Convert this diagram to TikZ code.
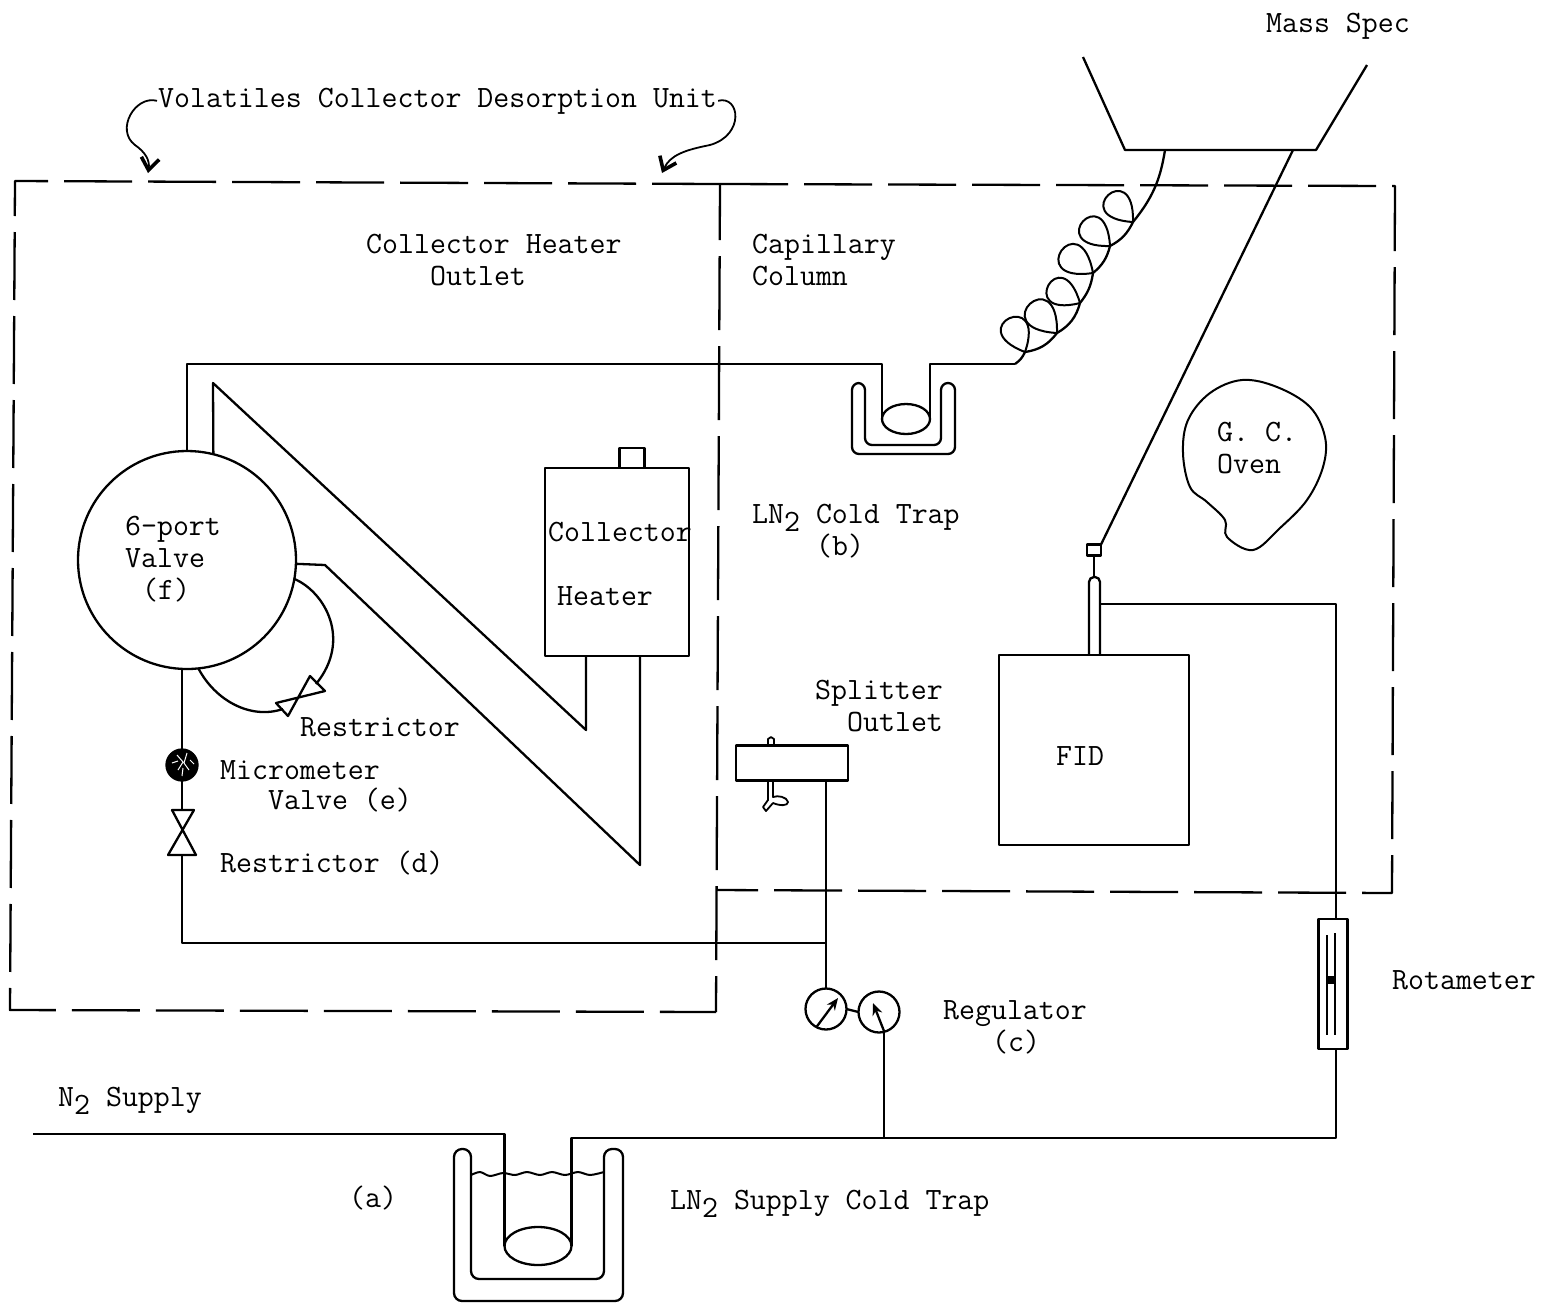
\documentclass[tikz,border=0pt]{standalone}
\usetikzlibrary{arrows.meta,shapes.geometric}
\newcommand{\subtwo}{\raisebox{-4pt}{2}}

\begin{document}
\begin{tikzpicture}[
  x=0.5pt, y=-0.5pt,
  line width=1.15pt, line join=round,
  box/.style={draw, inner sep=0pt, outer sep=0pt},
  bulb/.style={draw, ellipse, inner sep=0pt, outer sep=0pt},
  gauge/.style={draw, circle, inner sep=0pt, outer sep=0pt, minimum size=20.5pt},
  lab/.style={font=\fontsize{15.5}{16}\selectfont\ttfamily, anchor=base west, inner sep=0pt, yshift=-5pt},
  wall/.style={dash pattern=on 34pt off 8pt},
  loopy/.style={-{Straight Barb[length=6pt,width=9pt,line width=1.8pt]}, line width=0.9pt}
]
\useasboundingbox (0,0) rectangle (1543,1303);

% ── the two heated zones ─────────────────────────────────────────────
\coordinate (unitNW) at (15,181);
\coordinate (unitSW) at (10,1010);
\coordinate (unitSE) at (716,1012);
\coordinate (ovenNW) at (720,184);
\coordinate (ovenNE) at (1395,186);
\coordinate (ovenSE) at (1392,893);
\coordinate (ovenSW) at (716,890);
\draw[wall] (ovenNW) -- (unitNW) -- (unitSW) -- (unitSE);
\draw[wall] (ovenNW) -- (ovenNE) -- (ovenSE) -- (ovenSW);
\draw[dash pattern=on 37pt off 8pt, dash phase=9pt] (ovenNW) -- (unitSE);

% ── main parts ───────────────────────────────────────────────────────
\node[box, circle, minimum size=109pt] (valve) at (187,560) {};
\node[box, minimum width=72pt, minimum height=94pt] (collector) at (617,562) {};
\node[box, minimum width=12.5pt, minimum height=10pt] (collcap) at (632,458) {};
\node[box, minimum width=95pt, minimum height=95pt] (fid) at (1094,750) {};
\node[box, minimum width=56pt, minimum height=17.5pt] (splitter) at (792,763) {};
\node[box, minimum width=14.5pt, minimum height=65pt] (rotameter) at (1333,984) {};
\node[box, minimum width=7pt, minimum height=5.5pt] (msbox) at (1094,550) {};
\node[gauge] (gaugeL) at (826,1009) {};
\node[gauge] (gaugeR) at (879,1012) {};
\node[draw, circle, fill=black, inner sep=0pt, outer sep=0pt, minimum size=15.5pt] (ball) at (182,765) {};
\node[bulb, minimum width=24pt, minimum height=15pt] (coldbulb) at (906,419) {};
\node[bulb, minimum width=33.5pt, minimum height=19pt] (supplybulb) at (538,1246) {};

% ── mass spec inlet ──────────────────────────────────────────────────
\coordinate (msL) at (1125,150);
\coordinate (msR) at (1316,150);
\coordinate (msport) at (1293,150);
\draw (1083,57) -- (msL) -- (msR) -- (1367,65);
\draw (msport) -- (msbox.north east);

% ── column and coil ──────────────────────────────────────────────────
\coordinate (coilstart) at (1015,364);
\draw (valve.north) |- (coldbulb.west |- coilstart) -- (coldbulb.west);
\draw (coldbulb.east) -- (coldbulb.east |- coilstart) -- (coilstart);
\draw (coilstart) to[bend right=15] (1025,352) to[bend right=22] (1057,333)
      to[bend right=22] (1080,303) to[bend right=15] (1093,273)
      to[bend right=18] (1110,246) to[bend right=18] (1133,222)
      to[bend right=15] (1165,150);
\foreach \px/\py/\cx/\cy in {1025/352/1018/337, 1057/333/1045/320, 1080/303/1066/295,
                             1093/273/1079/263, 1110/246/1098/235, 1133/222/1122/210} {
  \pgfmathsetmacro\ax{\px+3.0*(\cx-\px)+2.9*(\cy-\py)}
  \pgfmathsetmacro\ay{\py+3.0*(\cy-\py)-2.9*(\cx-\px)}
  \pgfmathsetmacro\bx{\px+3.0*(\cx-\px)-2.9*(\cy-\py)}
  \pgfmathsetmacro\by{\py+3.0*(\cy-\py)+2.9*(\cx-\px)}
  \draw[line width=1pt] (\px,\py) .. controls (\ax,\ay) and (\bx,\by) .. (\px,\py);
}
\draw (852,420) [rounded corners=3.5pt] -- (852,383) -- (865,383) -- (865,445)
      -- (941,445) -- (941,383) -- (955,383) -- (955,454) -- (852,454) -- cycle;

% ── collector loop ───────────────────────────────────────────────────
\coordinate (diagA) at (213,383);
\coordinate (diagB) at (586,730);
\coordinate (diagC) at (325,565);
\coordinate (diagD) at (640,865);
\draw (valve.76) -- (diagA) -- (diagB) -- (diagB |- collector.south);
\draw (valve.358) -- (diagC) -- (diagD) -- (diagD |- collector.south);

% ── restrictor bypass on the valve ───────────────────────────────────
\draw (valve.-10) .. controls (325,592) and (352,640) .. (316,684);
\draw (valve.-84) .. controls (215,700) and (250,720) .. (283,709);
\draw (310,676) -- (325,691) -- (276,703) -- (288,716) -- cycle;

% ── carrier line through micrometer valve and restrictor ─────────────
\coordinate (restrB) at (182,855);
\coordinate (carrierjoin) at (826,943);
\draw (ball.north) -- (ball.north |- valve.south);
\draw (ball.south) -- (182,810);
\draw (172,810) -- (194,810) -- (168,855) -- (196,855) -- cycle;
\draw (restrB) |- (carrierjoin);
\draw (splitter.south -| gaugeL) -- (gaugeL.north);
\draw (gaugeL.east) -- (gaugeR.west);
\draw[white, line width=0.5pt] (177,755) -- (183,762) -- (178,770)
      (187,753) -- (184,763) -- (189,770) (172,763) -- (178,761)
      (183,768) -- (182,776) (190,760) -- (194,764);

% ── splitter outlet stubs ────────────────────────────────────────────
\draw[line width=0.9pt] (768,746) -- (768,739) -- (771,737) -- (774,739) -- (774,746);
\draw[line width=0.9pt] (768,781) -- (768,800) -- (763,807) -- (766,811) -- (773,803)
      .. controls (780,806) and (788,806) .. (788,802)
      .. controls (787,797) and (778,795) .. (773,797) -- (773,781);

% ── regulator needles ────────────────────────────────────────────────
\draw[-{Stealth[length=6pt,width=5pt]}] (gaugeL.-118) -- (838,998);
\draw[-{Stealth[length=6pt,width=5pt]}] (gaugeR.-75) -- (873,1003);

% ── FID and rotameter ────────────────────────────────────────────────
\coordinate (tubeport) at (1100,604);
\coordinate (rotatop) at (1336,919);
\coordinate (rotabot) at (1336,1049);
\draw (msbox.south) -- (1094,577);
\draw[rounded corners=2.5pt] (1089,655) -- (1089,577) -- (1100,577) -- (1100,655);
\draw (tubeport) -| (rotatop);
\draw[line width=1pt] (1327,935) -- (1327,1035);
\draw (1335,933) -- (1335,1035);
\fill (1327,976) rectangle (1336,984);

% ── supply line and cold trap ────────────────────────────────────────
\coordinate (supply) at (33,1134);
\coordinate (tee) at (884,1138);
\draw (supply) -| (supplybulb.west);
\draw (rotabot) |- (supplybulb.east |- tee) -- (supplybulb.east);
\draw (gaugeR.-75) -- (gaugeR.-75 |- tee);
\draw (454,1220) [rounded corners=4pt] -- (454,1149) -- (471,1149) -- (471,1279)
      -- (604,1279) -- (604,1149) -- (623,1149) -- (623,1301) -- (454,1301) -- cycle;
\draw[line width=1pt] plot[smooth, tension=0.5] coordinates {(471,1175) (480,1172) (490,1176)
      (503,1173) (515,1175) (527,1172) (540,1175) (552,1172) (565,1175) (578,1172)
      (590,1175) (604,1172)};

% ── oven outline ─────────────────────────────────────────────────────
\draw[line width=1pt] plot[smooth cycle, tension=0.6] coordinates {(1242,380) (1277,387)
      (1310,407) (1325,437) (1323,467) (1307,500) (1280,528) (1253,550) (1227,537)
      (1225,520) (1207,502) (1190,487) (1183,453) (1188,420) (1210,393)};

% ── labels ───────────────────────────────────────────────────────────
\node[lab] (lbmass)  at (1265,22)  {Mass Spec};
\node[lab] (lbunit)  at (157,97)   {Volatiles Collector Desorption Unit};
\node[lab] (lbhtout) at (365,243)  {Collector Heater};
\node[lab] (lbhtou2) at (429,275)  {Outlet};
\node[lab] (lbcap)   at (751,243)  {Capillary};
\node[lab] (lbcol)   at (751,275)  {Column};
\node[lab] (lbport)  at (124,525)  {6-port};
\node[lab] (lbvalve) at (124,557)  {Valve};
\node[lab] (lbf)     at (141,589)  {(f)};
\node[lab] (lbcoll)  at (547,531)  {Collector};
\node[lab] (lbheat)  at (556,595)  {Heater};
\node[lab] (lbtrap)  at (751,513)  {LN\subtwo{} Cold Trap};
\node[lab] (lbb)     at (815,545)  {(b)};
\node[lab] (lbgc)    at (1216,431) {G. C.};
\node[lab] (lboven)  at (1216,463) {Oven};
\node[lab] (lbsplit) at (814,689)  {Splitter};
\node[lab] (lbsout)  at (846,721)  {Outlet};
\node[lab] (lbfid)   at (1055,755) {FID};
\node[lab] (lbrest)  at (299,726)  {Restrictor};
\node[lab] (lbmicro) at (219,769)  {Micrometer};
\node[lab] (lbmval)  at (267,799)  {Valve (e)};
\node[lab] (lbrestd) at (219,862)  {Restrictor (d)};
\node[lab] (lbreg)   at (942,1009) {Regulator};
\node[lab] (lbc)     at (991,1041) {(c)};
\node[lab] (lbrota)  at (1391,979) {Rotameter};
\node[lab] (lbsupp)  at (57,1096)  {N\subtwo{} Supply};
\node[lab] (lba)     at (348,1197) {(a)};
\node[lab] (lbtrap2) at (669,1199) {LN\subtwo{} Supply Cold Trap};

% ── arrows from the title ────────────────────────────────────────────
\draw[loopy] (lbunit.west) .. controls (135,95) and (115,130) .. (135,145)
      .. controls (145,152) and (150,160) .. (148,173);
\draw[loopy] (lbunit.east) .. controls (740,95) and (745,135) .. (710,145)
      .. controls (685,150) and (670,155) .. (662,173);
\end{tikzpicture}
\end{document}
